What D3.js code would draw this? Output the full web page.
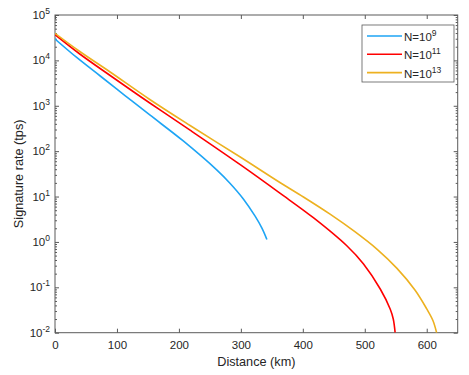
<!DOCTYPE html>
<html>
<head>
<meta charset="utf-8">
<script src="https://cdn.jsdelivr.net/npm/d3@7"></script>
<style>
  body { margin: 0; background: #fff; }
  text { font-family: "Liberation Sans", Arial, Helvetica, sans-serif; fill: #262626; }
  .axis path, .axis line { stroke: #5a5a5a; }
</style>
</head>
<body>
<script>
// distances (km) and signature rates (tps)
var dist9  = [0, 35, 73, 113, 153, 207, 261, 282, 304, 323, 334, 342];
var rate9  = [29580, 11590, 4529, 1683, 627, 167.5, 38.6, 19.9, 8.85, 3.69, 2.01, 1.13];

var dist11 = [0, 40, 89, 153, 218, 299, 363, 417, 471, 498, 525, 541, 546, 549];
var rate11 = [36810, 13830, 4645, 1151, 290, 50.4, 11.9, 3.42, 0.822, 0.327, 0.0918, 0.0333, 0.02, 0.01];

var dist13 = [0, 40, 89, 153, 218, 299, 363, 401, 444, 484, 520, 552, 581, 600, 610, 616];
var rate13 = [39540, 15700, 5546, 1374, 367, 74.3, 20.4, 9.78, 4.09, 1.68, 0.687, 0.261, 0.0872, 0.0335, 0.0186, 0.01];

var seriesNames = ["9", "11", "13"];
var seriesColors = ["#1ea5f5", "#ff0000", "#edb120"];
var xTicks = [0, 100, 200, 300, 400, 500, 600];
var yExps = [-2, -1, 0, 1, 2, 3, 4, 5];

var width = 469, height = 375;
var margin = {top: 15, right: 11.3, bottom: 42.3, left: 55};
var plotW = width - margin.left - margin.right;
var plotH = height - margin.top - margin.bottom;

var svg = d3.select("body").append("svg")
    .attr("width", width)
    .attr("height", height);

var g = svg.append("g")
    .attr("transform", "translate(" + margin.left + "," + margin.top + ")");

var x = d3.scaleLinear().domain([0, 650]).range([0, plotW]);
var y = d3.scaleLog().domain([1e-2, 1e5]).range([plotH, 0]);

var minorY = [];
yExps.slice(0, -1).forEach(function(e) {
    for (var k = 2; k <= 9; k++) minorY.push(k * Math.pow(10, e));
});
var majorY = yExps.map(function(e) { return Math.pow(10, e); });

// bottom + top x ticks
g.append("g").attr("class", "axis")
    .attr("transform", "translate(0," + plotH + ")")
    .call(d3.axisBottom(x).tickValues(xTicks).tickSizeInner(-4).tickSizeOuter(0).tickPadding(8))
    .call(function(a) { a.select(".domain").remove(); })
    .selectAll("text").style("font-size", "11.5px").attr("fill", "#262626");

g.append("g").attr("class", "axis")
    .call(d3.axisTop(x).tickValues(xTicks).tickSizeInner(-4).tickSizeOuter(0).tickFormat(""))
    .call(function(a) { a.select(".domain").remove(); });

// y major + minor ticks, left and right
[[d3.axisLeft, 0], [d3.axisRight, plotW]].forEach(function(p) {
    g.append("g").attr("class", "axis")
        .attr("transform", "translate(" + p[1] + ",0)")
        .call(p[0](y).tickValues(majorY).tickSizeInner(-4).tickSizeOuter(0).tickFormat(""))
        .call(function(a) { a.select(".domain").remove(); });
    g.append("g").attr("class", "axis")
        .attr("transform", "translate(" + p[1] + ",0)")
        .call(p[0](y).tickValues(minorY).tickSizeInner(-2).tickSizeOuter(0).tickFormat(""))
        .call(function(a) { a.select(".domain").remove(); });
});

// y tick labels with superscript exponents
var yl = g.append("g").selectAll("text")
    .data(yExps)
    .enter()
    .append("text")
    .attr("x", -5)
    .attr("y", function(d) { return y(Math.pow(10, d)) + 4; })
    .attr("text-anchor", "end")
    .style("font-size", "11.5px");
yl.append("tspan").text("10");
yl.append("tspan").attr("dy", -5).style("font-size", "8.5px").text(function(d) { return d; });

// box
g.append("rect")
    .attr("width", plotW)
    .attr("height", plotH)
    .attr("fill", "none")
    .attr("stroke", "#5a5a5a")
    .attr("stroke-width", 1);

g.append("clipPath").attr("id", "clip")
    .append("rect").attr("width", plotW).attr("height", plotH);

var line = d3.line()
    .curve(d3.curveCatmullRom.alpha(0.5))
    .x(function(d) { return x(d[0]); })
    .y(function(d) { return y(d[1]); });

var allData = [d3.zip(dist9, rate9), d3.zip(dist11, rate11), d3.zip(dist13, rate13)];

g.append("g").attr("clip-path", "url(#clip)")
    .selectAll("path")
    .data(allData)
    .enter()
    .append("path")
    .attr("d", line)
    .attr("fill", "none")
    .attr("stroke", function(d, i) { return seriesColors[i]; })
    .attr("stroke-width", 1.6);

// axis labels
svg.append("text")
    .attr("x", margin.left + plotW / 2)
    .attr("y", 366)
    .attr("text-anchor", "middle")
    .style("font-size", "12.7px")
    .text("Distance (km)");

svg.append("text")
    .attr("transform", "translate(23," + (margin.top + plotH / 2) + ") rotate(-90)")
    .attr("text-anchor", "middle")
    .style("font-size", "12.7px")
    .text("Signature rate (tps)");

// legend
var leg = svg.append("g").attr("transform", "translate(362,25)");
leg.append("rect")
    .attr("width", 92)
    .attr("height", 57)
    .attr("fill", "#fff")
    .attr("stroke", "#5a5a5a")
    .attr("stroke-width", 0.8);

var rows = leg.selectAll(".row")
    .data(seriesNames)
    .enter()
    .append("g")
    .attr("class", "row")
    .attr("transform", function(d, i) { return "translate(0," + (11 + i * 18.3) + ")"; });

rows.append("line")
    .attr("x1", 5).attr("x2", 40)
    .attr("stroke", function(d, i) { return seriesColors[i]; })
    .attr("stroke-width", 1.6);

var lt = rows.append("text")
    .attr("x", 42)
    .attr("y", 5)
    .style("font-size", "11.5px");
lt.append("tspan").text("N=10");
lt.append("tspan").attr("dy", -5).style("font-size", "8.5px").text(function(d) { return d; });
</script>
</body>
</html>
